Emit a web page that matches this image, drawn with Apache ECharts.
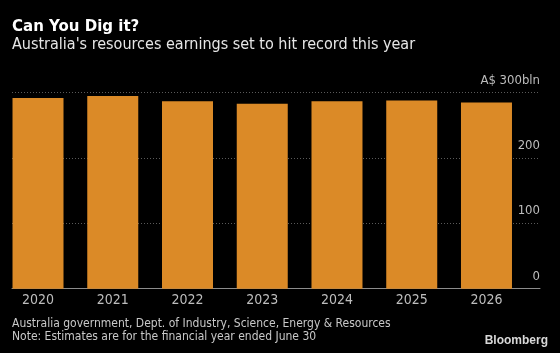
<!DOCTYPE html>
<html>
<head>
<meta charset="utf-8">
<script src="https://cdn.jsdelivr.net/npm/echarts@6/dist/echarts.min.js"></script>
<style>
  html, body { margin: 0; padding: 0; background: #000; }
  #chart { width: 560px; height: 353px; }
</style>
</head>
<body>
<div id="chart"></div>
<script>
// 财年
const years = ['2020', '2021', '2022', '2023', '2024', '2025', '2026']
// 资源出口收入（十亿澳元）
const earnings = [292, 295, 287, 283, 287, 288, 285]
// 纵轴刻度
const yTicks = [0, 100, 200, 300]

const FONT = "'Liberation Sans Narrow', 'DejaVu Sans Condensed', sans-serif"

const chart = echarts.init(document.getElementById('chart'))

const option = {
  backgroundColor: '#000',
  textStyle: { fontFamily: FONT },
  title: [
    {
      text: 'Can You Dig it?',
      left: 12,
      top: 20,
      padding: 0,
      textStyle: { color: '#fff', fontSize: 15, fontWeight: 'bold', fontFamily: "'DejaVu Sans', sans-serif" }
    },
    {
      text: "Australia's resources earnings set to hit record this year",
      left: 12,
      top: 37,
      padding: 0,
      textStyle: { color: '#e6e6e6', fontSize: 16, fontWeight: 'normal', fontFamily: FONT }
    },
    {
      text: 'Australia government, Dept. of Industry, Science, Energy & Resources\nNote: Estimates are for the financial year ended June 30',
      left: 12,
      top: 317,
      padding: 0,
      textStyle: { color: '#c8c8c8', fontSize: 12, lineHeight: 13, fontWeight: 'normal', fontFamily: FONT }
    },
    {
      text: 'Bloomberg',
      right: 12,
      top: 335,
      padding: 0,
      textStyle: { color: '#d8d8d8', fontSize: 12, fontWeight: 'bold', fontFamily: "'Liberation Sans', sans-serif" }
    }
  ],
  grid: { left: 12, right: 20, top: 92.7, bottom: 64.3 },
  xAxis: {
    type: 'value',
    min: 2019.652,
    max: 2026.716,
    axisLine: { show: true, lineStyle: { color: '#8c8c8c', width: 1 } },
    axisTick: { show: false },
    splitLine: { show: false },
    axisLabel: {
      customValues: years.map(Number),
      formatter: v => String(v),
      color: '#bdbdbd',
      fontSize: 14,
      margin: 5,
      fontFamily: FONT
    }
  },
  yAxis: {
    type: 'value',
    position: 'right',
    min: 0,
    max: 300,
    interval: 100,
    axisLine: { show: false },
    axisTick: { show: false },
    splitLine: { lineStyle: { color: '#5a5a5a', type: [1, 2], width: 1 } },
    axisLabel: {
      inside: true,
      margin: 0,
      verticalAlign: 'bottom',
      padding: [0, 0, 6, 0],
      color: '#bdbdbd',
      fontSize: 13,
      fontFamily: FONT,
      formatter: v => (v === yTicks[yTicks.length - 1] ? 'A$ ' + v + 'bln' : String(v))
    }
  },
  series: [
    {
      type: 'bar',
      barWidth: 51,
      data: years.map((y, i) => [Number(y), earnings[i]]),
      itemStyle: { color: '#db8a27' },
      silent: true
    }
  ]
}

chart.setOption(option)
</script>
</body>
</html>
